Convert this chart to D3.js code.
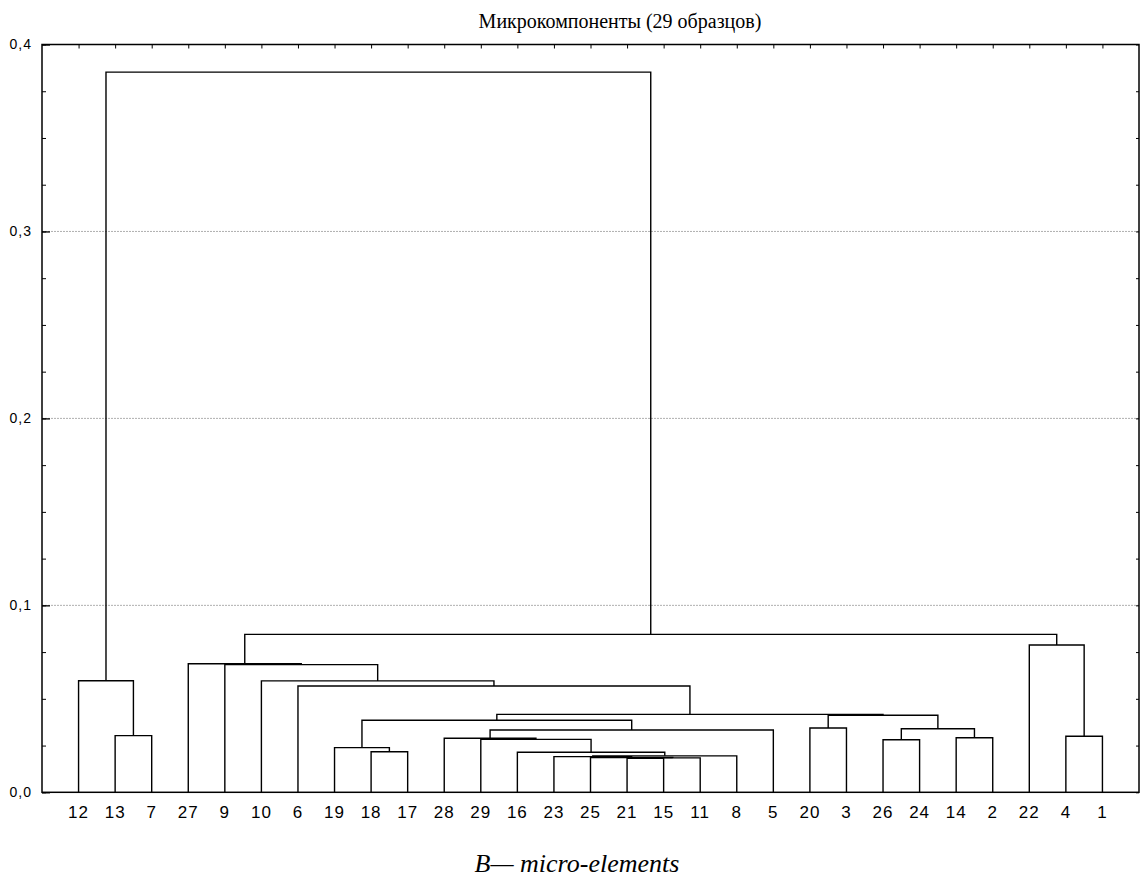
<!DOCTYPE html>
<html>
<head>
<meta charset="utf-8">
<script src="https://cdn.jsdelivr.net/npm/d3@7"></script>
<style>
  html, body { margin: 0; padding: 0; background: #fff; }
  svg { display: block; }
</style>
</head>
<body>
<script>
// Leaf order along the horizontal axis (sample numbers)
const leafOrder = ["12","13","7","27","9","10","6","19","18","17","28","29","16","23","25","21","15","11","8","5","20","3","26","24","14","2","22","4","1"];

// Agglomeration steps: merge k joins linkLeft[k] and linkRight[k] at linkHeight[k].
// Names "mN" refer to the node created by step N.
const linkLeft   = ["21","m0","25","23","m3","16","18","19","26","29","28","14","4","13","m10","m8","20","m7","m16","m17","6","10","12","9","27","22","m24","m22"];
const linkRight  = ["15","11","m1","m2","8","m4","17","m6","24","m5","m9","2","1","7","5","m11","3","m14","m15","m18","m19","m20","m13","m21","m23","m12","m25","m26"];
const linkHeight = [0.0182,0.0184,0.0186,0.0191,0.0195,0.0214,0.0217,0.0239,0.0281,0.0283,0.0289,0.0292,0.0300,0.0303,0.0333,0.0340,0.0344,0.0385,0.0412,0.0417,0.0569,0.0596,0.0597,0.0683,0.0688,0.0788,0.0845,0.3852];

// Axis settings
const yMajorTicks = [0, 0.1, 0.2, 0.3, 0.4];
const yMinorTicks = d3.range(0, 0.4001, 0.025);
const yGridLines  = [0.1, 0.2, 0.3];

const chartTitle = "Микрокомпоненты (29 образцов)";
const chartCaption = "B— micro-elements";

const W = 1140, H = 881;
const plot = { left: 42, right: 1139, top: 44.5, bottom: 792.3 };

const svg = d3.select("body").append("svg")
  .attr("width", W).attr("height", H);

const x = d3.scalePoint().domain(leafOrder).range([plot.left, plot.right]).padding(1);
const y = d3.scaleLinear().domain([0, 0.4]).range([plot.bottom, plot.top]);

// Build the tree from the merge table
const nodes = {};
leafOrder.forEach(name => { nodes[name] = { name, height: 0 }; });
linkLeft.forEach((l, k) => {
  nodes["m" + k] = { name: "m" + k, height: linkHeight[k], children: [nodes[l], nodes[linkRight[k]]] };
});
const root = d3.hierarchy(nodes["m" + (linkLeft.length - 1)]);
root.eachAfter(d => {
  d.px = d.children ? (d.children[0].px + d.children[1].px) / 2 : x(d.data.name);
});

// Grid lines
svg.append("g").selectAll("line").data(yGridLines).join("line")
  .attr("x1", plot.left).attr("x2", plot.right)
  .attr("y1", d => y(d)).attr("y2", d => y(d))
  .attr("stroke", "#9a9a9a").attr("stroke-width", 0.8)
  .attr("stroke-dasharray", "2,1");

// Dendrogram links (elbows)
const elbow = d => {
  const [a, b] = d.children;
  return `M${a.px},${y(a.data.height)}V${y(d.data.height)}H${b.px}V${y(b.data.height)}`;
};
svg.append("g").selectAll("path").data(root.descendants().filter(d => d.children)).join("path")
  .attr("d", elbow)
  .attr("fill", "none").attr("stroke", "#000").attr("stroke-width", 1.4);

// Frame
svg.append("rect")
  .attr("x", plot.left).attr("y", plot.top)
  .attr("width", plot.right - plot.left).attr("height", plot.bottom - plot.top)
  .attr("fill", "none").attr("stroke", "#000").attr("stroke-width", 1.5);

const fmt = v => d3.format(".1f")(v).replace(".", ",");

// Left axis: minor ticks, then major ticks with labels
svg.append("g").attr("transform", `translate(${plot.left},0)`)
  .call(d3.axisLeft(y).tickValues(yMinorTicks).tickSize(-4).tickFormat(""))
  .call(g => g.select(".domain").remove());
svg.append("g").attr("transform", `translate(${plot.left},0)`)
  .call(d3.axisLeft(y).tickValues(yMajorTicks).tickSize(-8).tickPadding(10).tickFormat(fmt))
  .call(g => g.select(".domain").remove())
  .call(g => g.selectAll("line").attr("stroke-width", 1.3))
  .call(g => g.selectAll("text")
    .attr("font-family", "'Liberation Sans', Arial, sans-serif")
    .attr("font-size", 14).attr("letter-spacing", "1px").attr("fill", "#000"));

// Right axis ticks
svg.append("g").attr("transform", `translate(${plot.right},0)`)
  .call(d3.axisRight(y).tickValues(yMinorTicks).tickSize(-3).tickFormat(""))
  .call(g => g.select(".domain").remove());

// Top axis ticks at leaf positions
svg.append("g").attr("transform", `translate(0,${plot.top})`)
  .call(d3.axisTop(x).tickSize(-4).tickFormat(""))
  .call(g => g.select(".domain").remove());

// Leaf labels
svg.append("g").selectAll("text").data(leafOrder).join("text")
  .attr("x", d => x(d)).attr("y", 818)
  .attr("text-anchor", "middle")
  .attr("font-family", "'Liberation Sans', Arial, sans-serif")
  .attr("font-size", 17).attr("letter-spacing", "1px")
  .text(d => d);

// Title
svg.append("text")
  .attr("x", 620).attr("y", 28)
  .attr("text-anchor", "middle")
  .attr("font-family", "'Liberation Serif', 'Times New Roman', serif")
  .attr("font-size", 20)
  .text(chartTitle);

// Caption
svg.append("text")
  .attr("x", 577).attr("y", 872)
  .attr("text-anchor", "middle")
  .attr("font-family", "'Liberation Serif', 'Times New Roman', serif")
  .attr("font-style", "italic")
  .attr("font-size", 26)
  .text(chartCaption);
</script>
</body>
</html>
